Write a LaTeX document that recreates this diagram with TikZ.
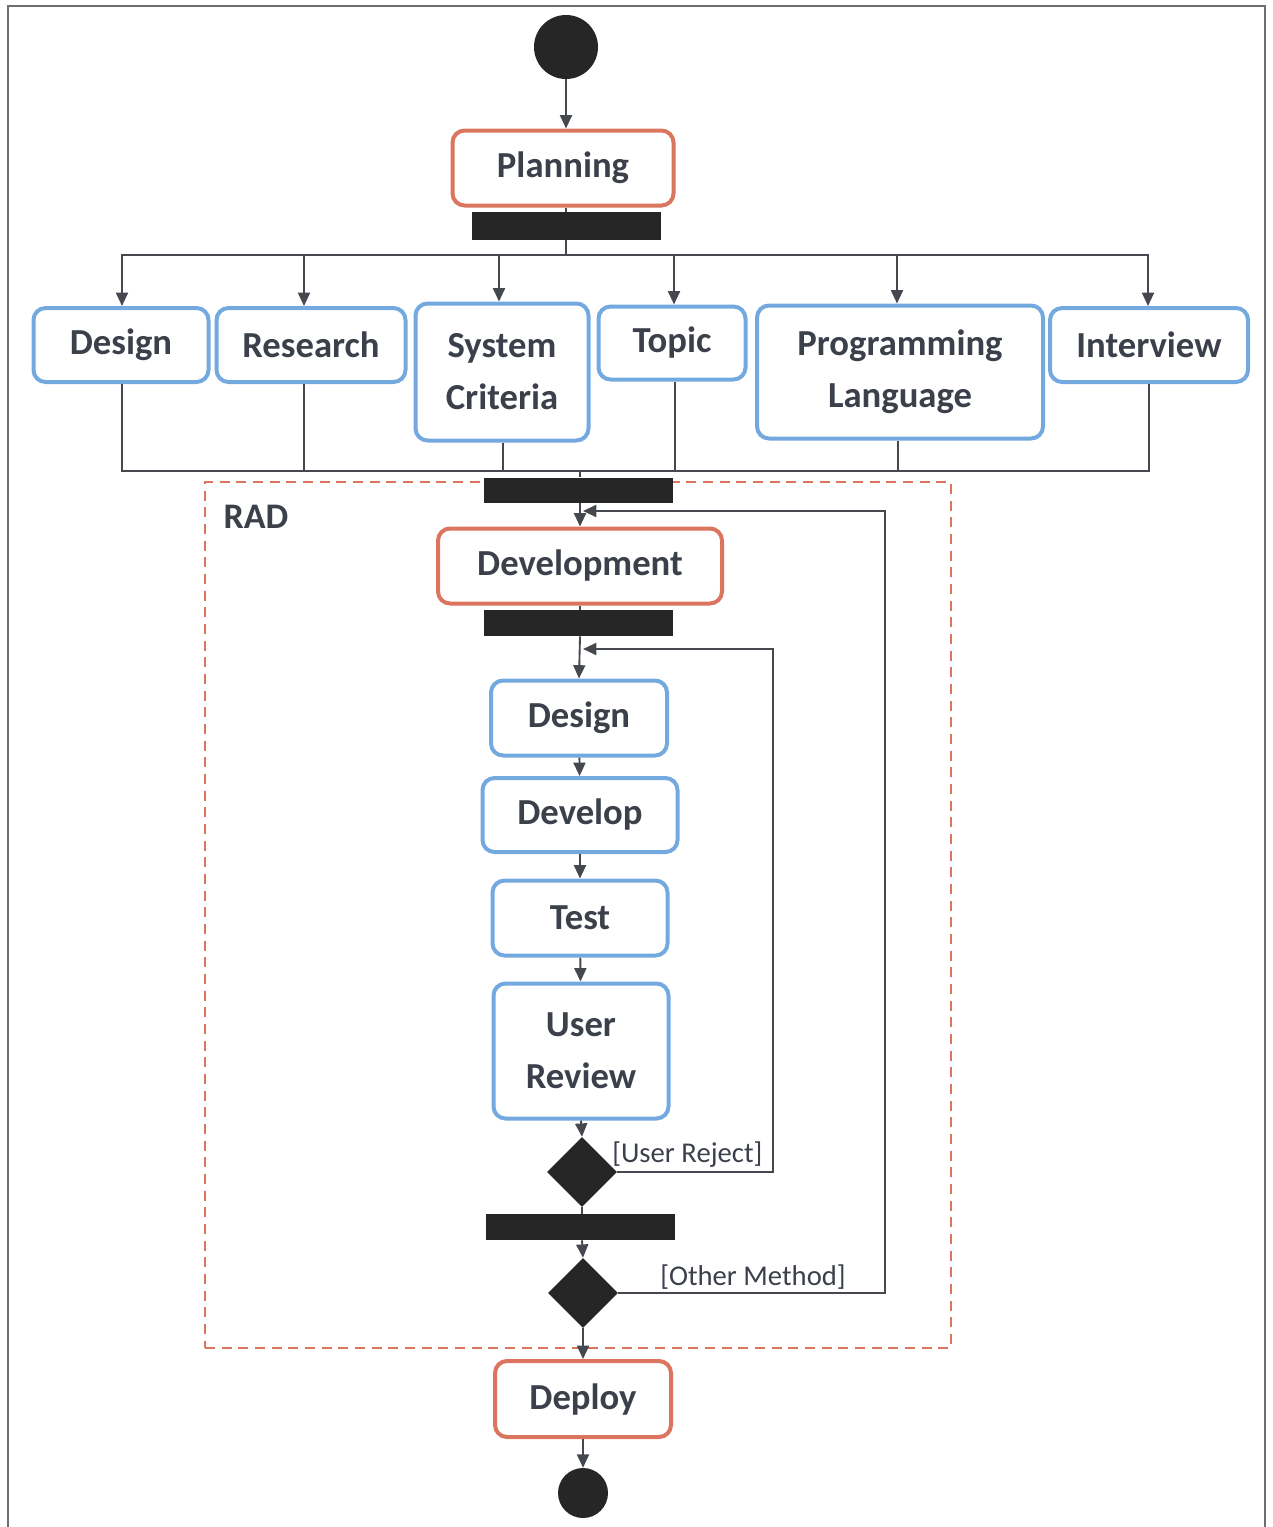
\documentclass[tikz,border=0pt]{standalone}
\usepackage{fontspec}
\setmainfont{Carlito}
\usetikzlibrary{shapes.geometric,arrows.meta}
\definecolor{txt}{HTML}{3B404B}
\definecolor{blu}{HTML}{74A9E0}
\definecolor{org}{HTML}{DB7560}
\definecolor{ln}{HTML}{45484F}
\definecolor{frm}{HTML}{6E6E6E}
\begin{document}
\begin{tikzpicture}[x=0.75pt,y=-0.75pt,
  act/.style 2 args={draw, line width=3pt, rounded corners=9pt, fill=white,
     minimum width=#1*0.75pt, minimum height=#2*0.75pt, inner sep=0pt,
     text=txt, font=\fontsize{27.5}{39}\selectfont\bfseries, align=center},
  bact/.style 2 args={act={#1}{#2}, draw=blu},
  oact/.style 2 args={act={#1}{#2}, draw=org},
  barnode/.style 2 args={fill=black!85, draw=none, minimum width=#1*0.75pt,
     minimum height=#2*0.75pt, inner sep=0pt},
  dot/.style={circle, fill=black!85, minimum size=#1*0.75pt, inner sep=0pt},
  decide/.style={diamond, fill=black!85, shape aspect=1, inner sep=0pt,
     minimum width=70*0.75pt, minimum height=70*0.75pt},
  conn/.style={draw=ln, line width=1.4pt},
  arr/.style={conn, -{Triangle[length=10pt,width=9pt]}},
  guard/.style={text=txt, font=\fontsize{21.5}{24}\selectfont, inner sep=0pt, anchor=west}
]
\useasboundingbox (0,0) rectangle (1273,1527);
% outer frame
\draw[frm, line width=1.5pt] (8,1527) -- (8,6) -- (1265,6) -- (1265,1527);
% RAD region
\node[draw=org, dashed, dash pattern=on 7.5pt off 5pt, line width=1.2pt,
      minimum width=746*0.75pt, minimum height=866*0.75pt, inner sep=0pt] (radbox) at (578,915) {};
\node[text=txt, font=\fontsize{27}{30}\selectfont\bfseries, inner sep=0pt] (radlbl) at (256,517) {RAD};

% nodes
\node[dot=64] (start) at (566,47) {};
\node[oact={221}{75}] (plan) at (563,168) {Planning};
\node[barnode={189}{28}] (bar1) at (566,226) {};
\coordinate (fork) at (566,255);

\node[bact={175}{74}] (design) at (121,345) {Design};
\node[bact={189}{74}] (research) at (311,345) {Research};
\node[bact={173}{137}] (sysc) at (502,372) {System\\Criteria};
\node[bact={147}{73}] (topic) at (672,343) {Topic};
\node[bact={286}{133}] (prog) at (900,372) {Programming\\Language};
\node[bact={198}{74}] (inter) at (1149,345) {Interview};

\coordinate (join) at (580,471);
\node[barnode={189}{25}] (bar2) at (578,490) {};
\node[oact={284}{75}] (dev) at (580,566) {Development};
\node[barnode={189}{26}] (bar3) at (578,623) {};
\node[bact={176}{75}] (des2) at (579,718) {Design};
\node[bact={195}{74}] (devp) at (580,815) {Develop};
\node[bact={175}{75}] (test) at (580,918) {Test};
\node[bact={175}{135}] (urev) at (581,1051) {User\\Review};
\node[decide] (dia1) at (582,1172) {};
\node[barnode={189}{26}] (bar4) at (580,1227) {};
\node[decide] (dia2) at (583,1293) {};
\node[oact={176}{76}] (deploy) at (583,1399) {Deploy};
\node[dot=50] (endc) at (583,1493) {};

\node[guard] (lab1) at (612,1155) {[User Reject]};
\node[guard] (lab2) at (660,1277) {[Other Method]};

% connectors
\draw[arr] (start) -- (start |- plan.north);
\draw[conn] (plan.south -| bar1) -- (bar1);
\draw[conn] (bar1) -- (fork);
\foreach \n/\d in {design/1,research/-7,sysc/-3,topic/2,prog/-3,inter/-1}
  \draw[arr] (fork) -| ([xshift=\d*0.75pt]\n.north);
\foreach \n/\d in {design/1,research/-7,sysc/1,topic/3,prog/-2,inter/0}
  \draw[conn] ([xshift=\d*0.75pt]\n.south) |- (join);
\draw[conn] (join) -- (join |- bar2.north);
\draw[arr] (join |- bar2.south) -- (dev.north);
\draw[conn] (dev.south) -- (dev.south |- bar3.north);
\draw[arr] (dev.south |- bar3.south) -- (des2.north);
\draw[arr] (des2) -- (devp);
\draw[arr] (devp) -- (test);
\draw[arr] (test) -- (urev);
\draw[arr] (urev.south) -- (dia1.north);
\draw[conn] (dia1.south) -- (dia1.south |- bar4.north);
\draw[arr] (dia1.south |- bar4.south) -- (dia2.north);
\draw[arr] (dia2.south) -- (deploy.north);
\draw[arr] (deploy.south) -- (endc.north);

\coordinate (r1) at (885,511);
\coordinate (m1) at (583,511);
\draw[arr] (dia2.east) -| (r1) -- (m1);
\coordinate (r2) at (773,649);
\coordinate (m2) at (583,649);
\draw[arr] (dia1.east) -| (r2) -- (m2);
\end{tikzpicture}
\end{document}
